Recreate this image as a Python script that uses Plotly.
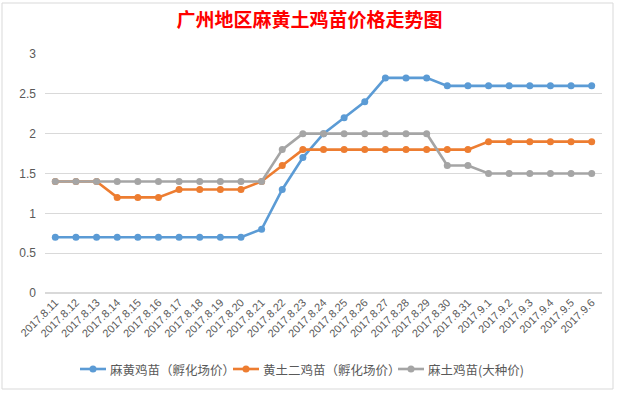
import plotly.graph_objects as go

dates = ["2017.8.11", "2017.8.12", "2017.8.13", "2017.8.14", "2017.8.15", "2017.8.16",
         "2017.8.17", "2017.8.18", "2017.8.19", "2017.8.20", "2017.8.21", "2017.8.22",
         "2017.8.23", "2017.8.24", "2017.8.25", "2017.8.26", "2017.8.27", "2017.8.28",
         "2017.8.29", "2017.8.30", "2017.8.31", "2017.9.1", "2017.9.2", "2017.9.3",
         "2017.9.4", "2017.9.5", "2017.9.6"]

mahuang = [0.7, 0.7, 0.7, 0.7, 0.7, 0.7, 0.7, 0.7, 0.7, 0.7, 0.8, 1.3, 1.7, 2.0,
           2.2, 2.4, 2.7, 2.7, 2.7, 2.6, 2.6, 2.6, 2.6, 2.6, 2.6, 2.6, 2.6]
huangtu = [1.4, 1.4, 1.4, 1.2, 1.2, 1.2, 1.3, 1.3, 1.3, 1.3, 1.4, 1.6, 1.8, 1.8,
           1.8, 1.8, 1.8, 1.8, 1.8, 1.8, 1.8, 1.9, 1.9, 1.9, 1.9, 1.9, 1.9]
matu = [1.4, 1.4, 1.4, 1.4, 1.4, 1.4, 1.4, 1.4, 1.4, 1.4, 1.4, 1.8, 2.0, 2.0,
        2.0, 2.0, 2.0, 2.0, 2.0, 1.6, 1.6, 1.5, 1.5, 1.5, 1.5, 1.5, 1.5]

names = ["麻黄鸡苗（孵化场价）", "黄土二鸡苗（孵化场价）", "麻土鸡苗(大种价)"]
colors = ["#5B9BD5", "#ED7D31", "#A5A5A5"]
values = [mahuang, huangtu, matu]

W, H = 619, 393
L, R, T, B = 45, 17, 54, 100
pw, ph = W - L - R, H - T - B

def px(x):
    return (x - L) / pw

def py(y):
    return (H - B - y) / ph

fig = go.Figure()
for name, vals, color in zip(names, values, colors):
    fig.add_trace(go.Scatter(
        x=dates, y=vals, name=name, mode="lines+markers",
        line=dict(color=color, width=2.6),
        marker=dict(color=color, size=7),
        showlegend=False,
    ))

# legend drawn by hand (compact Excel-style layout)
shapes = [dict(type="rect", xref="paper", yref="paper",
               x0=px(2), x1=px(613), y0=py(389), y1=py(3),
               line=dict(color="#D9D9D9", width=1), layer="below")]
annotations = []
leg_y = 369
starts = [80, 233, 398]
for name, color, x0 in zip(names, colors, starts):
    shapes.append(dict(type="line", xref="paper", yref="paper",
                       x0=px(x0), x1=px(x0 + 26), y0=py(leg_y), y1=py(leg_y),
                       line=dict(color=color, width=2.6)))
    cx = x0 + 13
    shapes.append(dict(type="circle", xref="paper", yref="paper",
                       x0=px(cx - 3.5), x1=px(cx + 3.5),
                       y0=py(leg_y + 3.5), y1=py(leg_y - 3.5),
                       fillcolor=color, line=dict(color=color, width=0)))
    annotations.append(dict(xref="paper", yref="paper", x=px(x0 + 28), y=py(leg_y),
                            xanchor="left", yanchor="middle", showarrow=False,
                            text=name, font=dict(size=12.5, color="#595959")))

fig.update_layout(
    width=W, height=H, autosize=False,
    margin=dict(l=L, r=R, t=T, b=B, autoexpand=False),
    paper_bgcolor="white", plot_bgcolor="white",
    font=dict(family="Noto Sans CJK SC, Noto Sans, sans-serif", color="#595959", size=11),
    title=dict(text="<b>广州地区麻黄土鸡苗价格走势图</b>", x=0.5, xanchor="center",
               y=1 - 20 / H, yanchor="middle",
               font=dict(color="#FF0000", size=19, family="Noto Sans CJK SC")),
    xaxis=dict(type="category", range=[-0.5, 26.5], showgrid=False, showline=False,
               automargin=False,
               ticks="", tickangle=-45, tickfont=dict(size=11, color="#595959",
               family="Liberation Sans, Noto Sans, sans-serif"), zeroline=False),
    yaxis=dict(range=[0, 3], dtick=0.5, showgrid=True, gridcolor="#D9D9D9", gridwidth=1,
               automargin=False,
               zeroline=True, zerolinecolor="#D9D9D9", showline=False, ticks="",
               tickfont=dict(size=12, color="#595959",
                             family="Liberation Sans, Noto Sans, sans-serif"),
               ticklabelstandoff=8),
    showlegend=False,
    shapes=shapes,
    annotations=annotations,
)

fig.write_html("out.html", config={"displayModeBar": False},
               post_script="document.body.style.margin='0';document.body.style.overflow='hidden';")
